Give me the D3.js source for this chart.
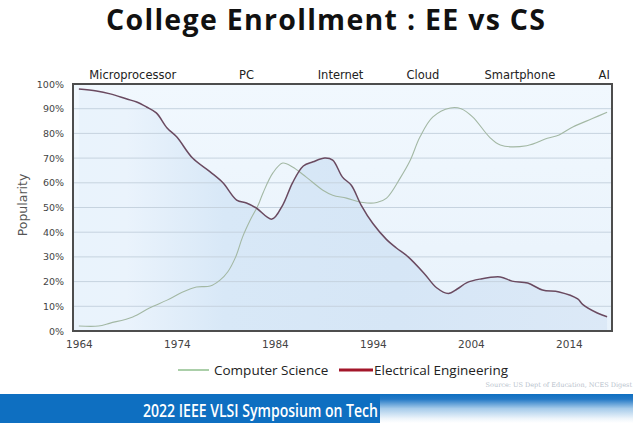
<!DOCTYPE html>
<html><head><meta charset="utf-8">
<script src="https://cdn.jsdelivr.net/npm/d3@7"></script>
<style>html,body{margin:0;padding:0;background:#fff;}svg{display:block;}</style>
</head><body>
<svg id="chart" width="640" height="438"></svg>
<script>
// ---- data ----
const title = "College Enrollment : EE vs CS";
const eraLabels = ["Microprocessor", "PC", "Internet", "Cloud", "Smartphone", "AI"];
const eraCenters = [1969.5, 1981.1, 1990.7, 1999.1, 2009.0, 2017.6];
const xTickYears = [1964, 1974, 1984, 1994, 2004, 2014];
const yTickValues = [0, 10, 20, 30, 40, 50, 60, 70, 80, 90, 100];
const seriesNames = ["Computer Science", "Electrical Engineering"];

const csYears = [1964, 1966, 1967.2, 1969.5, 1971.2, 1973, 1974.6, 1976, 1977.4, 1978.4, 1979.2, 1980, 1980.7, 1981.5, 1982.3, 1982.8, 1983.8, 1984.8, 1985.8, 1987.2, 1988.9, 1989.9, 1991.3, 1993, 1994.4, 1995.4, 1996.8, 1997.8, 1998.8, 2000.1, 2001.9, 2003, 2004.2, 2005.9, 2007, 2009.7, 2011.8, 2013, 2014.4, 2016.4, 2017.9];
const csValues = [2, 2, 3.2, 5.7, 9.3, 12.5, 15.8, 17.8, 18.2, 20.6, 24, 30, 38, 45, 51, 56, 64, 68, 66.4, 62.3, 57, 55, 53.8, 52, 52, 53.8, 62, 69, 78.5, 86.6, 90.3, 90, 86.6, 78.5, 75.3, 75, 78, 79.4, 82.6, 86, 88.6];

const eeYears = [1964, 1965.8, 1967.2, 1968.9, 1969.9, 1970.9, 1971.9, 1973, 1974, 1975.6, 1977.4, 1978.7, 1980.1, 1981.1, 1982.1, 1983.7, 1984.8, 1985.8, 1986.9, 1987.9, 1989.1, 1989.9, 1990.9, 1991.8, 1992.8, 1994, 1995.4, 1996.4, 1997.6, 1999.3, 2000.5, 2001.7, 2002.6, 2003.6, 2004.9, 2007, 2008.2, 2009.8, 2011.3, 2013, 2014.9, 2015.4, 2016.9, 2017.9];
const eeValues = [98, 97.2, 96, 93.9, 92.7, 90.7, 88.3, 82.2, 78.5, 70, 64.4, 60, 53, 51.8, 49.8, 45.3, 51, 60, 66.8, 68.5, 70, 69.2, 62.3, 59, 51, 43.5, 37, 33.6, 30, 23, 17.5, 15.2, 17, 19.6, 21, 21.9, 20.2, 19.4, 16.6, 15.8, 13, 10.8, 7.3, 5.8];

const sourceNote = "Source: US Dept of Education, NCES Digest";
const bannerText = "2022 IEEE VLSI Symposium on Tech";

// ---- layout ----
const svg = d3.select("#chart");
const plot = {left: 73, right: 612, top: 84, bottom: 331};
const x = d3.scaleLinear().domain([1963.4, 2018.4]).range([plot.left, plot.right]);
const y = d3.scaleLinear().domain([0, 100]).range([plot.bottom, plot.top]);

const defs = svg.append("defs");
const bg = defs.append("linearGradient").attr("id", "bg").attr("x1", 0).attr("y1", 0).attr("x2", 0).attr("y2", 1);
bg.append("stop").attr("offset", "0%").attr("stop-color", "#f1f8fe");
bg.append("stop").attr("offset", "100%").attr("stop-color", "#e8f2fb");
const ar = defs.append("linearGradient").attr("id", "area").attr("gradientUnits", "userSpaceOnUse")
  .attr("x1", plot.left).attr("y1", 0).attr("x2", plot.right).attr("y2", 0);
ar.append("stop").attr("offset", "0%").attr("stop-color", "#e9f3fc");
ar.append("stop").attr("offset", "10%").attr("stop-color", "#eaf3fc");
ar.append("stop").attr("offset", "28%").attr("stop-color", "#d8e8f7");
ar.append("stop").attr("offset", "60%").attr("stop-color", "#d6e6f6");
ar.append("stop").attr("offset", "100%").attr("stop-color", "#dce9f7");
const bn = defs.append("linearGradient").attr("id", "bannerFade").attr("x1", 0).attr("y1", 0).attr("x2", 0).attr("y2", 1);
bn.append("stop").attr("offset", "0%").attr("stop-color", "#0e6fc1");
bn.append("stop").attr("offset", "18%").attr("stop-color", "#2479c6");
bn.append("stop").attr("offset", "50%").attr("stop-color", "#a6cbea");
bn.append("stop").attr("offset", "85%").attr("stop-color", "#eef5fb");
bn.append("stop").attr("offset", "100%").attr("stop-color", "#ffffff");

// title
svg.append("text").attr("x", 106).attr("y", 30)
  .attr("font-family", "Open Sans, sans-serif").attr("font-weight", 700).attr("font-size", 28.5)
  .attr("textLength", 439).attr("lengthAdjust", "spacing")
  .attr("fill", "#111").text(title);

// plot background
svg.append("rect").attr("x", plot.left).attr("y", plot.top)
  .attr("width", plot.right - plot.left).attr("height", plot.bottom - plot.top)
  .attr("fill", "url(#bg)");

// area under EE
const eeData = eeYears.map((yr, i) => ({yr, v: eeValues[i]}));
const csData = csYears.map((yr, i) => ({yr, v: csValues[i]}));
svg.append("path").datum(eeData)
  .attr("d", d3.area().x(d => x(d.yr)).y0(plot.bottom).y1(d => y(d.v)).curve(d3.curveCatmullRom))
  .attr("fill", "url(#area)");

// gridlines
svg.append("g").selectAll("line").data(yTickValues.filter(v => v > 0 && v < 100)).join("line")
  .attr("x1", plot.left).attr("x2", plot.right)
  .attr("y1", d => y(d)).attr("y2", d => y(d))
  .attr("stroke", "#c6d3df").attr("stroke-width", 1);

// lines
svg.append("path").datum(csData)
  .attr("d", d3.line().x(d => x(d.yr)).y(d => y(d.v)).curve(d3.curveCatmullRom))
  .attr("fill", "none").attr("stroke", "#a3b8a4").attr("stroke-width", 1.1);
svg.append("path").datum(eeData)
  .attr("d", d3.line().x(d => x(d.yr)).y(d => y(d.v)).curve(d3.curveCatmullRom))
  .attr("fill", "none").attr("stroke", "#6a4a60").attr("stroke-width", 1.5);

// frame
svg.append("rect").attr("x", plot.left).attr("y", plot.top)
  .attr("width", plot.right - plot.left).attr("height", plot.bottom - plot.top)
  .attr("fill", "none").attr("stroke", "#4d4d4d").attr("stroke-width", 2);

// axes
const yAxis = d3.axisLeft(y).tickValues(yTickValues).tickSize(0).tickPadding(9).tickFormat(d => d + "%");
const gy = svg.append("g").attr("transform", `translate(${plot.left},0)`).call(yAxis);
gy.select(".domain").remove();
gy.selectAll("text").attr("font-family", "DejaVu Sans, sans-serif").attr("font-size", 9.5).attr("fill", "#444");

const xAxis = d3.axisBottom(x).tickValues(xTickYears).tickSize(0).tickPadding(10).tickFormat(d3.format("d"));
const gx = svg.append("g").attr("transform", `translate(0,${plot.bottom})`).call(xAxis);
gx.select(".domain").remove();
gx.selectAll("text").attr("font-family", "DejaVu Sans, sans-serif").attr("font-size", 10.5).attr("fill", "#444");

// y title
svg.append("text").attr("transform", "translate(27,205) rotate(-90)").attr("text-anchor", "middle")
  .attr("font-family", "DejaVu Sans, sans-serif").attr("font-size", 12.5).attr("fill", "#555").text("Popularity");

// era labels
svg.append("g").selectAll("text").data(eraLabels).join("text")
  .attr("x", (d, i) => x(eraCenters[i])).attr("y", 79).attr("text-anchor", "middle")
  .attr("font-family", "DejaVu Sans, sans-serif").attr("font-size", 11.5).attr("fill", "#222")
  .text(d => d);

// legend
const legend = svg.append("g");
legend.append("line").attr("x1", 178).attr("x2", 209).attr("y1", 370).attr("y2", 370).attr("stroke", "#8fbf8c").attr("stroke-width", 1.5);
legend.append("text").attr("x", 214).attr("y", 375).attr("font-family", "Open Sans, sans-serif").attr("font-size", 13.5).attr("fill", "#222").text(seriesNames[0]);
legend.append("line").attr("x1", 339).attr("x2", 373).attr("y1", 370).attr("y2", 370).attr("stroke", "#a3162a").attr("stroke-width", 3);
legend.append("text").attr("x", 374).attr("y", 375).attr("font-family", "Open Sans, sans-serif").attr("font-size", 13.5).attr("fill", "#222").text(seriesNames[1]);

// source
svg.append("text").attr("x", 632).attr("y", 387).attr("text-anchor", "end")
  .attr("font-family", "DejaVu Serif, serif").attr("font-size", 6.5).attr("fill", "#b8c2cc").text(sourceNote);

// banner
svg.append("rect").attr("x", 0).attr("y", 394).attr("width", 380).attr("height", 29).attr("fill", "#0e6fc1");
svg.append("rect").attr("x", 380).attr("y", 394).attr("width", 253).attr("height", 29).attr("fill", "url(#bannerFade)");
svg.append("text").attr("x", 143).attr("y", 417)
  .attr("font-family", "Open Sans, sans-serif").attr("font-weight", 600).attr("font-size", 18)
  .attr("textLength", 235).attr("lengthAdjust", "spacingAndGlyphs")
  .attr("fill", "#ffffff").text(bannerText);
</script>
</body></html>
